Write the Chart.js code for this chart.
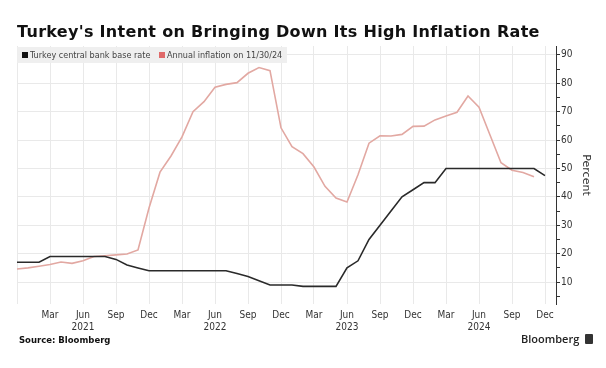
<!DOCTYPE html>
<html><head><meta charset="utf-8">
<script src="https://cdn.jsdelivr.net/npm/chart.js@4.4.0/dist/chart.umd.min.js"></script>
<style>
html,body{margin:0;padding:0;background:#fff;width:606px;height:368px;overflow:hidden;}
#c{position:absolute;left:0;top:0;}
#title{position:absolute;left:17px;top:24px;font:bold 16px/16px "DejaVu Sans";letter-spacing:0.3px;color:#111;white-space:nowrap;}
#legend{position:absolute;left:17px;top:47px;height:16px;width:270px;background:rgba(238,238,238,0.92);font:9px/16px "DejaVu Sans Condensed","DejaVu Sans";color:#444;white-space:nowrap;}
#legend span.sq{display:inline-block;width:6px;height:6px;margin:0 2px 0 5px;vertical-align:0px;}
#source{position:absolute;left:19px;top:335px;font:bold 8.5px/10px "DejaVu Sans";color:#111;}
#logo{position:absolute;left:521px;top:332px;font:600 11px/14px "Open Sans";color:#222;}
#icon{position:absolute;left:585px;top:334px;width:8px;height:10px;background:#333;border-radius:1px;}
</style></head>
<body>
<canvas id="c" width="606" height="368"></canvas>
<div id="title">Turkey's Intent on Bringing Down Its High Inflation Rate</div>
<div id="legend"><span class="sq" style="background:#111"></span>Turkey central bank base rate <span class="sq" style="background:#e06a6a;margin-left:6px"></span>Annual inflation on 11/30/24</div>
<div id="source">Source: Bloomberg</div>
<div id="logo">Bloomberg</div>
<div id="icon"></div>
<script>
const months = ['Dec 2020','Jan 2021','Feb 2021','Mar 2021','Apr 2021','May 2021','Jun 2021','Jul 2021','Aug 2021','Sep 2021','Oct 2021','Nov 2021','Dec 2021',
'Jan 2022','Feb 2022','Mar 2022','Apr 2022','May 2022','Jun 2022','Jul 2022','Aug 2022','Sep 2022','Oct 2022','Nov 2022','Dec 2022',
'Jan 2023','Feb 2023','Mar 2023','Apr 2023','May 2023','Jun 2023','Jul 2023','Aug 2023','Sep 2023','Oct 2023','Nov 2023','Dec 2023',
'Jan 2024','Feb 2024','Mar 2024','Apr 2024','May 2024','Jun 2024','Jul 2024','Aug 2024','Sep 2024','Oct 2024','Nov 2024','Dec 2024','Jan 2025'];
const baseRate = [17,17,17,19,19,19,19,19,19,18,16,15,14,
14,14,14,14,14,14,14,13,12,10.5,9,9,
9,8.5,8.5,8.5,8.5,15,17.5,25,30,35,40,42.5,
45,45,50,50,50,50,50,50,50,50,50,47.5,null];
const inflation = [14.6,15.0,15.6,16.2,17.1,16.6,17.5,19.0,19.3,19.6,19.9,21.3,36.1,
48.7,54.4,61.1,70.0,73.5,78.6,79.6,80.2,83.5,85.5,84.4,64.3,
57.7,55.2,50.5,43.7,39.6,38.2,47.8,58.9,61.5,61.4,62.0,64.8,
64.9,67.1,68.5,69.8,75.5,71.6,61.8,52.0,49.4,48.6,47.1,null,null];
const xTickMonths = ['Mar','Jun','Sep','Dec'];
const yTicks = [5,10,15,20,25,30,35,40,45,50,55,60,65,70,75,80,85,90];
const yLabelTicks = [10,20,30,40,50,60,70,80,90];

const tickFont = {family:'"DejaVu Sans Condensed","DejaVu Sans"', size:10};
function isQuarter(i){ return xTickMonths.includes(months[i].split(' ')[0]); }

new Chart(document.getElementById('c'), {
  type:'line',
  data:{labels:months, datasets:[
    {label:'Turkey central bank base rate', data:baseRate, borderColor:'#2a2a2a', borderWidth:1.6, pointRadius:0, tension:0, spanGaps:false},
    {label:'Annual inflation on 11/30/24', data:inflation, borderColor:'#e2a8a2', borderWidth:1.6, pointRadius:0, tension:0, spanGaps:false}
  ]},
  options:{
    responsive:false, animation:false,
    layout:{padding:{left:17, top:46, right:0, bottom:0}},
    plugins:{legend:{display:false}, tooltip:{enabled:false}},
    scales:{
      x:{
        offset:false,
        grid:{color:c => (c.index!==undefined && isQuarter(c.index)) ? '#e9e9e9' : 'rgba(0,0,0,0)', drawTicks:false, lineWidth:1},
        border:{display:false},
        ticks:{autoSkip:false, maxRotation:0, minRotation:0, padding:5, color:'#333', font:tickFont,
          callback:(v,i) => {
            if (i===0) return '';
            const [m,y] = months[i].split(' ');
            if (!xTickMonths.includes(m)) return '';
            return m==='Jun' ? [m,y] : m;
          }},
        afterFit:s => { s.height = 64; }
      },
      y:{
        position:'right', min:2.3, max:93.1,
        afterBuildTicks:a => { a.ticks = yTicks.map(v => ({value:v})); },
        grid:{color:c => (c.tick && yLabelTicks.includes(c.tick.value)) ? '#e9e9e9' : 'rgba(0,0,0,0)', tickColor:'#333', tickLength:4, lineWidth:1},
        border:{display:true, color:'#333', width:1},
        ticks:{padding:1, color:'#333', font:tickFont, callback:v => yLabelTicks.includes(v) ? String(v) : ''},
        title:{display:true, text:'Percent', color:'#333', font:{family:'"DejaVu Sans"', size:11}, padding:{top:14, bottom:0}},
        afterFit:s => { s.width = 50; }
      }
    }
  }
});
</script>
</body></html>
